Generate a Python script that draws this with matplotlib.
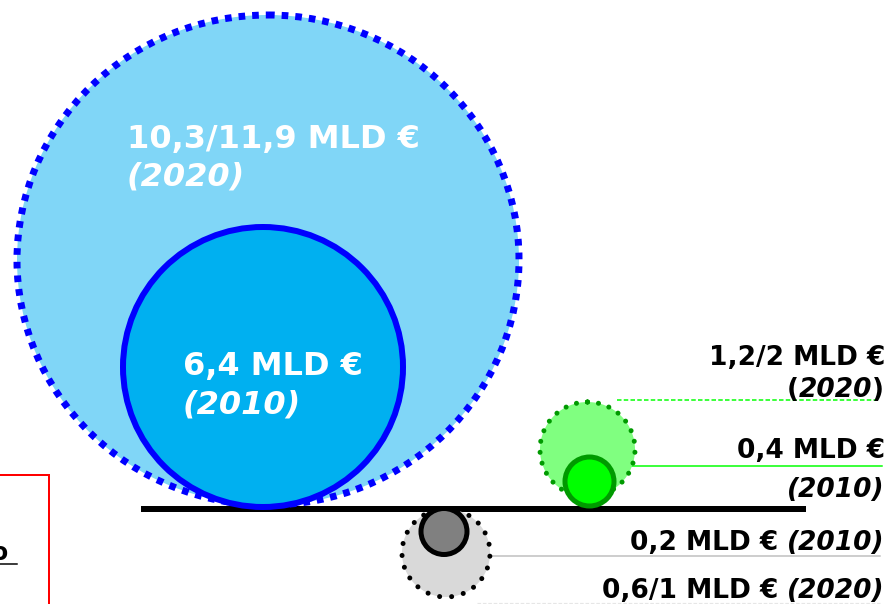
import matplotlib
matplotlib.use("Agg")
import matplotlib.pyplot as plt
from matplotlib.patches import Circle, Ellipse, Rectangle

# ---------------- data ----------------
segments = ["blue", "green", "grey"]
value_2010 = ["6,4", "0,4", "0,2"]
value_2020 = ["10,3/11,9", "1,2/2", "0,6/1"]
unit = "MLD €"
year_2010 = "2010"
year_2020 = "2020"

# ---------------- layout (pixels) ----------------
W, H = 893, 604
PX = 0.72  # px -> pt at dpi 100

fig = plt.figure(figsize=(W / 100, H / 100), dpi=100)
ax = fig.add_axes([0, 0, 1, 1])
ax.set_xlim(0, W)
ax.set_ylim(H, 0)
ax.axis("off")
renderer = fig.canvas.get_renderer()

FONT = "DejaVu Sans"

# red box (cut-off) on the left
ax.add_patch(Rectangle((-20, 475), 69, 200, fill=False, edgecolor="#FF0000",
                       linewidth=2 * PX, zorder=1))
ax.text(8, 560, "o", ha="right", va="baseline", fontsize=17, fontweight="bold",
        family=FONT, color="black", zorder=2)
ax.plot([0, 17], [564, 564], color="black", linewidth=1.5 * PX, zorder=2)

# baseline
ax.plot([141, 806], [508.5, 508.5], color="black", linewidth=6 * PX,
        solid_capstyle="butt", zorder=2)

# ---- blue (largest) ----
ax.add_patch(Ellipse((268, 260), 502, 490, facecolor="#80D6F7", edgecolor="#0000FF",
                     linewidth=7 * PX, linestyle=(0, (0.95, 1.0)), zorder=3))
ax.add_patch(Circle((263, 367), 140, facecolor="#00B0F0", edgecolor="#0000FF",
                    linewidth=6 * PX, zorder=4))

# ---- green ----
ax.add_patch(Circle((587.5, 449.5), 47.5, facecolor="#80FF80", edgecolor="#009A00",
                    linewidth=5 * PX, linestyle=(0, (0.01, 2.2)), capstyle="round",
                    zorder=3))
ax.add_patch(Circle((589.5, 481.5), 24.5, facecolor="#00FF00", edgecolor="#009A00",
                    linewidth=5 * PX, zorder=4))

# ---- grey ----
ax.add_patch(Circle((446, 553), 44, facecolor="#D9D9D9", edgecolor="black",
                    linewidth=5 * PX, linestyle=(0, (0.01, 2.4)), capstyle="round",
                    zorder=3))
ax.add_patch(Circle((444, 531.5), 23, facecolor="#808080", edgecolor="black",
                    linewidth=5 * PX, zorder=4))

# leader lines
ax.plot([617, 875], [399.5, 399.5], color="#00FF00", linewidth=1.5 * PX,
        linestyle=(0, (3, 1.5)), zorder=2)
ax.plot([620, 882], [466, 466], color="#00FF00", linewidth=1.5 * PX, zorder=2)
ax.plot([457, 880], [556, 556], color="#BFBFBF", linewidth=1.5 * PX, zorder=2)
ax.plot([477, 880], [603, 603], color="#E6E6E6", linewidth=1.2 * PX,
        linestyle=(0, (3, 1.5)), zorder=2)

# ---------------- texts ----------------
BIG = 23
SMALL = 19


def rtext(x_right, y, parts, size, color="black", gap=0):
    """Right-aligned text made of parts [(text, italic), ...] drawn right to left."""
    x = x_right
    for s, italic in reversed(parts):
        t = ax.text(x, y, s, ha="right", va="baseline", fontsize=size,
                    fontweight="bold", fontstyle="italic" if italic else "normal",
                    family=FONT, color=color, zorder=6)
        bb = t.get_window_extent(renderer)
        x = bb.x0 - (gap if s.startswith("(") and s.endswith(")") and len(parts) > 1 and gap else 0)


# blue labels (white, inside)
ax.text(127, 148, f"{value_2020[0]} {unit}", ha="left", va="baseline", fontsize=BIG,
        fontweight="bold", family=FONT, color="white", zorder=6)
ax.text(127, 185, f"({year_2020})", ha="left", va="baseline", fontsize=BIG,
        fontweight="bold", fontstyle="italic", family=FONT, color="white", zorder=6)
ax.text(183, 375, f"{value_2010[0]} {unit}", ha="left", va="baseline", fontsize=BIG,
        fontweight="bold", family=FONT, color="white", zorder=6)
ax.text(183, 413, f"({year_2010})", ha="left", va="baseline", fontsize=BIG,
        fontweight="bold", fontstyle="italic", family=FONT, color="white", zorder=6)

# green labels
rtext(885, 365, [(f"{value_2020[1]} {unit}", False)], SMALL)
rtext(884, 397, [("(", False), (year_2020, True), (")", False)], SMALL)
rtext(885, 458, [(f"{value_2010[1]} {unit}", False)], SMALL)
rtext(884, 497, [(f"({year_2010})", True)], SMALL)

# grey labels
rtext(884, 550, [(f"{value_2010[2]} {unit}", False), (f"({year_2010})", True)], SMALL, gap=8)
rtext(884, 598, [(f"{value_2020[2]} {unit}", False), (f"({year_2020})", True)], SMALL, gap=8)

fig.savefig("out.png", dpi=100)
